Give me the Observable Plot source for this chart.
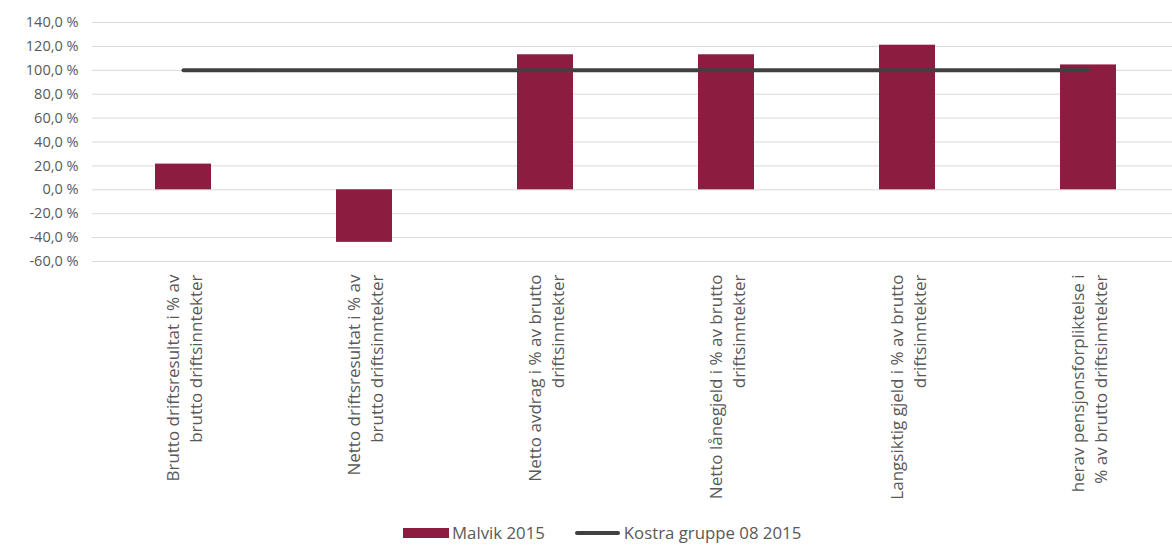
<!DOCTYPE html>
<html>
<head>
<meta charset="utf-8">
<script src="https://cdn.jsdelivr.net/npm/d3@7"></script>
<script src="https://cdn.jsdelivr.net/npm/@observablehq/plot@0.6"></script>
<style>
  html, body { margin: 0; padding: 0; background: #fff; }
  body { width: 1172px; height: 545px; overflow: hidden; font-family: "Open Sans", sans-serif; }
  #legend { display: flex; align-items: center; height: 25px; margin-left: 403px; font-size: 16.8px; color: #595959; }
  .item { display: flex; align-items: center; }
  .sw-bar { width: 46px; height: 10px; background: #8C1D40; margin-right: 3px; }
  .sw-line { width: 45px; height: 4px; background: #404040; border-radius: 2px; margin-right: 4px; }
</style>
</head>
<body>
<div id="chart"></div>
<div id="legend">
  <div class="item" style="margin-right:30px"><div class="sw-bar"></div><span>Malvik 2015</span></div>
  <div class="item"><div class="sw-line"></div><span>Kostra gruppe 08 2015</span></div>
</div>
<script>
const categories = [
  "Brutto driftsresultat i % av\nbrutto driftsinntekter",
  "Netto driftsresultat i % av\nbrutto driftsinntekter",
  "Netto avdrag i % av brutto\ndriftsinntekter",
  "Netto lånegjeld i % av brutto\ndriftsinntekter",
  "Langsiktig gjeld i % av brutto\ndriftsinntekter",
  "herav pensjonsforpliktelse i\n% av brutto driftsinntekter"
];
const malvik2015 = [21.5, -44, 113, 113, 121, 104.5];
const kostra2015 = [100, 100, 100, 100, 100, 100];
const yTicks = [-60, -40, -20, 0, 20, 40, 60, 80, 100, 120, 140];
const seriesNames = ["Malvik 2015", "Kostra gruppe 08 2015"];

const bars = categories.map((c, i) => ({category: c, value: malvik2015[i]}));
const line = categories.map((c, i) => ({category: c, value: kostra2015[i]}));

const fmt = d => d.toFixed(1).replace(".", ",") + " %";

const chart = Plot.plot({
  width: 1172,
  height: 520,
  marginTop: 22,
  marginBottom: 259,
  marginLeft: 92,
  marginRight: 0,
  style: {fontFamily: "'Open Sans', sans-serif", fontSize: "14px", color: "#595959", background: "#fff"},
  x: {domain: categories, range: [92, 1180], paddingInner: 0.69, paddingOuter: 0.345, axis: null},
  y: {domain: [-60, 140], ticks: yTicks, label: null},
  marks: [
    Plot.ruleY(yTicks, {stroke: "#D9D9D9", strokeWidth: 1}),
    Plot.axisY({ticks: yTicks, tickSize: 0, tickPadding: 14, tickFormat: fmt, fill: "#595959", fontSize: 14.5, label: null}),
    Plot.barY(bars, {x: "category", y: "value", fill: "#8C1D40"}),
    Plot.line(line, {x: "category", y: "value", stroke: "#404040", strokeWidth: 4, strokeLinecap: "round"}),
    Plot.text(categories, {x: d => d, frameAnchor: "bottom", dy: 13, rotate: -90, textAnchor: "end", lineAnchor: "middle", lineHeight: 1.35, fill: "#595959", fontSize: 17})
  ]
});
document.getElementById("chart").appendChild(chart);
</script>
</body>
</html>
